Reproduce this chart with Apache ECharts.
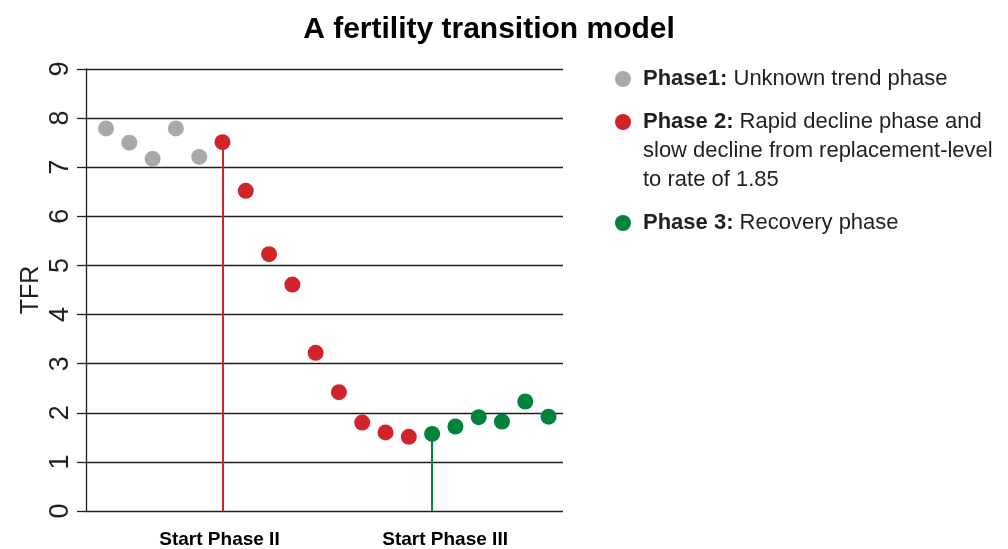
<!DOCTYPE html>
<html lang="en">
<head>
	<meta charset="UTF-8">
	<title>A fertility transition model</title>
	<style>
		html,body{margin:0;padding:0;background:#fff;}
		#main{width:1008px;height:549px;}
	</style>
</head>
<body>
	<div id="main"></div>

	<script src="https://cdn.jsdelivr.net/npm/echarts@6/dist/echarts.min.js"></script>
	<script>
		// values (x = period index)
		var phase1X = [0, 1, 2, 3, 4];
		var phase1Y = [7.79, 7.50, 7.17, 7.79, 7.21];
		var phase2X = [5, 6, 7, 8, 9, 10, 11, 12, 13];
		var phase2Y = [7.51, 6.52, 5.23, 4.61, 3.22, 2.42, 1.80, 1.60, 1.51];
		var phase3X = [14, 15, 16, 17, 18, 19];
		var phase3Y = [1.57, 1.72, 1.91, 1.82, 2.23, 1.92];
		var startLabels = ['Start Phase II', 'Start Phase III'];
		var yTicks = [0, 1, 2, 3, 4, 5, 6, 7, 8, 9];

		var names = ['Phase1', 'Phase 2', 'Phase 3'];
		var colors = ['#a7a9ac', '#d2232a', '#00843d'];
		var fontFam = '"Liberation Sans", Arial, sans-serif';

		function pairs(xs, ys){
			var out = [];
			for(var i=0;i<xs.length;i++){
				out.push([xs[i], ys[i]]);
			}
			return out;
		}

		// vertical marker from first point of a phase down to 0
		function startLine(xs, ys, color){
			return {
				silent: true,
				symbol: 'none',
				label: {show: false},
				lineStyle: {color: color, width: 2, type: 'solid'},
				data: [[{coord: [xs[0], ys[0]]}, {coord: [xs[0], 0]}]]
			};
		}

		var legendText = {
			fontSize: 22,
			fontFamily: fontFam,
			color: '#231f20',
			lineHeight: 29,
			rich: {
				b: {fontWeight: 'bold', fontSize: 22, fontFamily: fontFam, color: '#231f20', lineHeight: 29}
			}
		};

		function legendItem(idx, top, extra){
			var ts = JSON.parse(JSON.stringify(legendText));
			ts.padding = extra || [0, 0, 0, 7];
			return {
				data: [names[idx]],
				left: 615,
				top: top,
				padding: 0,
				orient: 'vertical',
				icon: 'circle',
				itemWidth: 16,
				itemHeight: 16,
				selectedMode: false,
				textStyle: ts,
				formatter: function(n){
					if(n=='Phase1') return '{b|Phase1:} Unknown trend phase';
					if(n=='Phase 2') return '{b|Phase 2:} Rapid decline phase and\nslow decline from replacement-level\nto rate of 1.85';
					return '{b|Phase 3:} Recovery phase';
				}
			};
		}

		var myChart = echarts.init(document.getElementById('main'));
		var option = {
			animation: false,
			title: {
				text: 'A fertility transition model',
				left: 484,
				textAlign: 'center',
				top: 10,
				textStyle: {fontSize: 30, fontWeight: 'bold', fontFamily: fontFam, color: '#000'}
			},
			legend: [
				legendItem(0, 64.5),
				legendItem(1, 49.5, [58, 0, 0, 7]),
				legendItem(2, 208.5)
			],
			grid: {left: 86, right: 445, top: 69, bottom: 38},
			xAxis: {
				type: 'value',
				min: -0.86,
				max: 19.62,
				axisLine: {show: false},
				axisTick: {show: false},
				splitLine: {show: false},
				axisLabel: {
					customValues: [phase2X[0], phase3X[0]],
					margin: 19,
					fontSize: 19,
					fontWeight: 'bold',
					fontFamily: fontFam,
					color: '#000',
					formatter: function(v){
						if(v==phase2X[0]) return '{a|' + startLabels[0] + '}';
						if(v==phase3X[0]) return '{c|' + startLabels[1] + '}';
						return '';
					},
					rich: {
						a: {fontSize: 19, fontWeight: 'bold', fontFamily: fontFam, color: '#000', padding: [0, 6, 0, 0]},
						c: {fontSize: 19, fontWeight: 'bold', fontFamily: fontFam, color: '#000', padding: [0, 0, 0, 26]}
					}
				}
			},
			yAxis: {
				type: 'value',
				min: yTicks[0],
				max: yTicks[yTicks.length-1],
				interval: 1,
				name: 'TFR',
				nameLocation: 'middle',
				nameRotate: 90,
				nameGap: 42,
				nameTextStyle: {fontSize: 25, fontFamily: fontFam, color: '#231f20'},
				axisLine: {show: true, onZero: false, lineStyle: {color: '#231f20', width: 1.3}},
				axisTick: {show: true, length: 9, lineStyle: {color: '#231f20', width: 1.3}},
				splitLine: {show: true, lineStyle: {color: '#231f20', width: 1.3}},
				axisLabel: {
					rotate: 90,
					margin: 12,
					fontSize: 27,
					fontFamily: fontFam,
					color: '#231f20'
				}
			},
			series: [
				{
					name: names[0],
					type: 'scatter',
					symbol: 'circle',
					symbolSize: 16,
					itemStyle: {color: colors[0], opacity: 1},
					data: pairs(phase1X, phase1Y),
					z: 3
				},
				{
					name: names[1],
					type: 'scatter',
					symbol: 'circle',
					symbolSize: 16,
					itemStyle: {color: colors[1], opacity: 1},
					data: pairs(phase2X, phase2Y),
					markLine: startLine(phase2X, phase2Y, colors[1]),
					z: 3
				},
				{
					name: names[2],
					type: 'scatter',
					symbol: 'circle',
					symbolSize: 16,
					itemStyle: {color: colors[2], opacity: 1},
					data: pairs(phase3X, phase3Y),
					markLine: startLine(phase3X, phase3Y, colors[2]),
					z: 3
				}
			]
		};
		myChart.setOption(option);
	</script>
</body>
</html>
